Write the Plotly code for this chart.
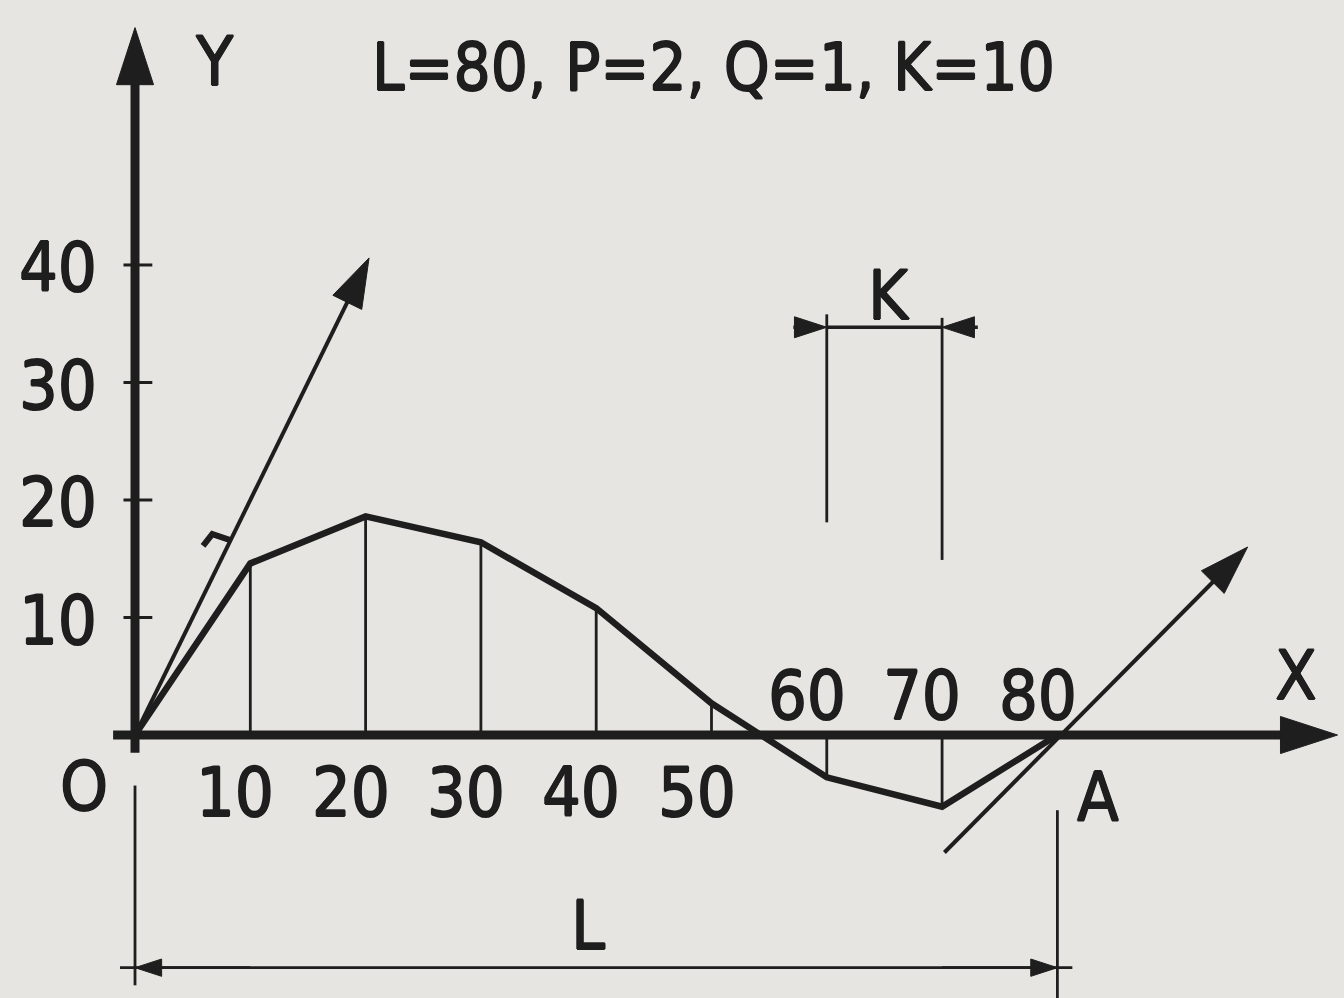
import plotly.graph_objects as go

# Beam parameters shown in the heading
L, P, Q, K = 80, 2, 1, 10

# Stations along the span and the ordinates of the deflection polygon
station_x = [0, 10, 20, 30, 40, 50, 60, 70, 80]
deflection_y = [0, 14.6, 18.6, 16.4, 10.8, 2.7, -3.6, -6.1, 0]

# Tick labels
y_tick_values = [10, 20, 30, 40]
x_labels_below = [10, 20, 30, 40, 50]
x_labels_above = [60, 70, 80]

# End tangents (slope P at O, slope Q at A)
start_tangent_x = [0, 20.3]
start_tangent_y = [0, 40.6]
end_tangent_x = [70.2, 96.5]
end_tangent_y = [-10.0, 16.0]

# Small angle mark beside the tangent at O
angle_mark_x = [5.9, 6.7, 8.2]
angle_mark_y = [16.1, 17.1, 16.6]

# Axis extents
x_axis_span = [-1.9, 104.3]
y_axis_span = [-1.5, 60.2]

# Dimension lines
k_level = 34.7
k_ext_top = [35.8, 35.5]
k_ext_bottom = [18.1, 14.9]
l_level = -19.8
l_ext_left = [-4.3, -21.3]
l_ext_right = [-6.4, -22.5]

INK = "#1e1e1e"
PAPER = "#e6e5e2"
FONT = "DejaVu Sans Condensed, Liberation Sans Narrow, Roboto Condensed, DejaVu Sans"
TEXT_SHADOW = ("0.8px 0 0 #1e1e1e, -0.8px 0 0 #1e1e1e, "
               "0 0.8px 0 #1e1e1e, 0 -0.8px 0 #1e1e1e")

fig = go.Figure()


def seg(xs, ys, width, arrow_size=0):
    """Straight segment; optional arrow head at the last point."""
    marker = None
    mode = "lines"
    if arrow_size:
        mode = "lines+markers"
        marker = dict(symbol="arrow", size=[0] * (len(xs) - 1) + [arrow_size],
                      angleref="previous", color=INK, opacity=1,
                      line=dict(width=1, color=INK))
    fig.add_trace(go.Scatter(x=xs, y=ys, mode=mode, marker=marker,
                             line=dict(color=INK, width=width),
                             hoverinfo="skip", showlegend=False))


# Axes with arrow heads
seg(x_axis_span, [0, 0], 9, arrow_size=60)
seg([0, 0], y_axis_span, 9, arrow_size=60)

# Y ticks
for v in y_tick_values:
    seg([-1.0, 1.5], [v, v], 3)

# Ordinates of the polygon
for xv, yv in zip(station_x[1:-1], deflection_y[1:-1]):
    seg([xv, xv], [0, yv], 2.8)

# Deflection polygon
seg(station_x, deflection_y, 6.5)

# Tangents
seg(start_tangent_x, start_tangent_y, 4, arrow_size=52)
seg(end_tangent_x, end_tangent_y, 4, arrow_size=52)
seg(angle_mark_x, angle_mark_y, 6)

# K dimension
k_left, k_right = 60, 60 + K
seg([k_left, k_left], [k_ext_top[0], k_ext_bottom[0]], 2.8)
seg([k_right, k_right], [k_ext_top[1], k_ext_bottom[1]], 2.8)
seg([k_left, k_right], [k_level, k_level], 3.5)
seg([k_left - 2.9, k_left], [k_level, k_level], 3.5, arrow_size=34)
seg([k_right + 3.1, k_right], [k_level, k_level], 3.5, arrow_size=34)

# L dimension
seg([0, 0], l_ext_left, 2.8)
seg([L, L], l_ext_right, 2.8)
seg([-1.3, L + 1.3], [l_level, l_level], 2.8)
seg([10, 0], [l_level, l_level], 2.8, arrow_size=28)
seg([L - 10, L], [l_level, l_level], 2.8, arrow_size=28)


def label(text, x, y, size=68):
    fig.add_annotation(x=x, y=y, text=text, showarrow=False,
                       xanchor="center", yanchor="middle",
                       font=dict(family=FONT, size=size, color=INK,
                                 shadow=TEXT_SHADOW))


for v in y_tick_values:
    label(str(v), -6.7, v - 0.25)
for v in x_labels_below:
    label(str(v), v - 1.3, -4.85)
for v in x_labels_above:
    label(str(v), v - 1.7, 3.4)

label("O", -4.4, -4.4)
label("A", 83.5, -5.3)
label("X", 100.7, 5.1)
label("Y", 6.9, 57.3)
label("K", 65.4, 37.4)
label("L", 39.3, -16.2)
label(f"L={L}, P={P}, Q={Q}, K={K}", 50.2, 56.8, size=65)

fig.update_layout(
    width=1344, height=998,
    margin=dict(l=0, r=0, t=0, b=0),
    paper_bgcolor=PAPER, plot_bgcolor=PAPER,
    xaxis=dict(range=[-11.71, 104.86], visible=False, fixedrange=True),
    yaxis=dict(range=[-22.38, 62.55], visible=False, fixedrange=True),
)

fig.write_html("out.html")
